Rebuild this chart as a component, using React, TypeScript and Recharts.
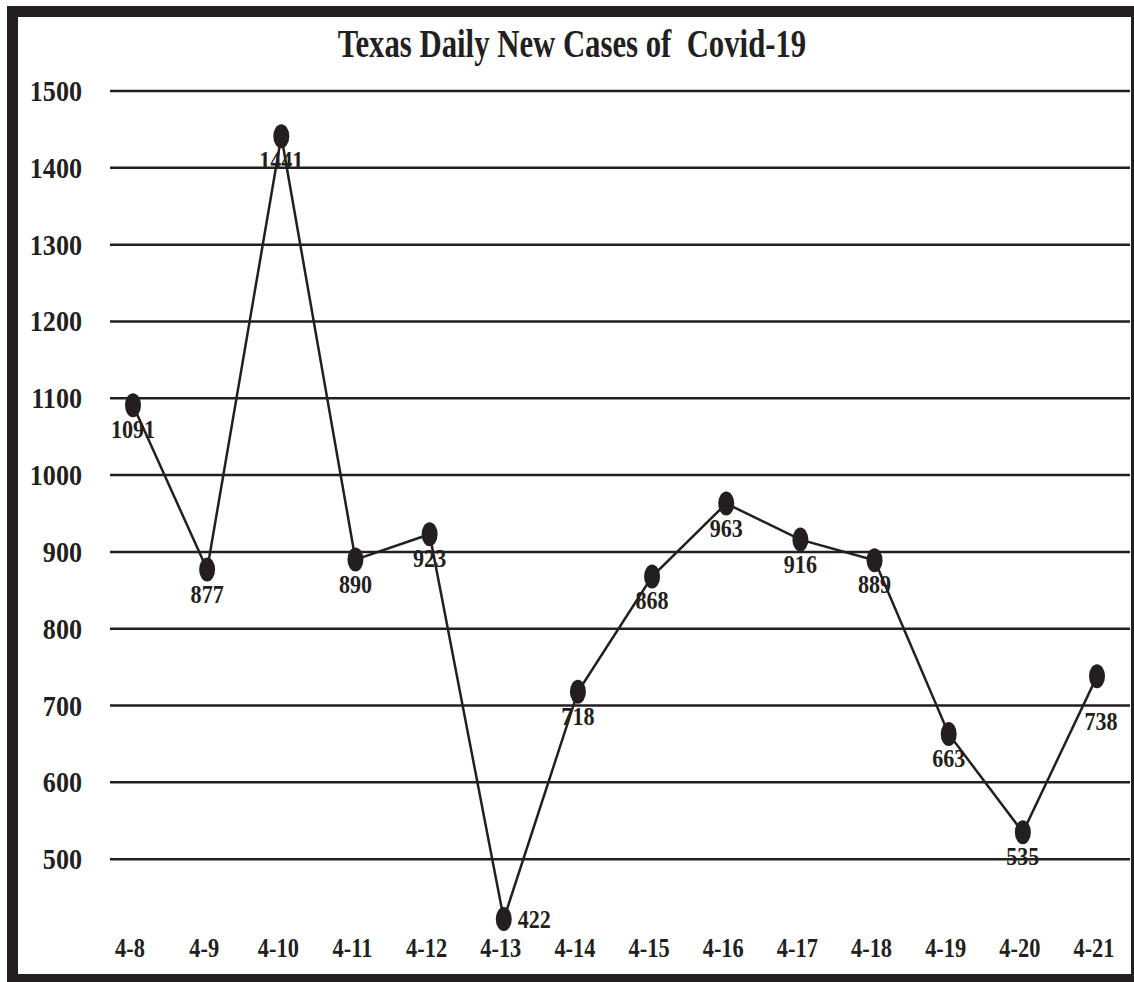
import { CartesianGrid, LabelList, Line, LineChart, XAxis, YAxis } from 'recharts';

const days = ['4-8', '4-9', '4-10', '4-11', '4-12', '4-13', '4-14', '4-15', '4-16', '4-17', '4-18', '4-19', '4-20', '4-21'];
const newCases = [1091, 877, 1441, 890, 923, 422, 718, 868, 963, 916, 889, 663, 535, 738];
const yTicks = [500, 600, 700, 800, 900, 1000, 1100, 1200, 1300, 1400, 1500];

const data = days.map((day, i) => ({ day, cases: newCases[i] }));

const INK = '#231f20';
const FONT = '"Liberation Serif", "Times New Roman", serif';

const YTick = ({ x, y, payload }: any) => (
  <g transform={`translate(${x},${y + 10})`}>
    <text transform="scale(0.87,1)" textAnchor="end" fontFamily={FONT} fontWeight="bold" fontSize={30} fill={INK}>
      {payload.value}
    </text>
  </g>
);

const XTick = ({ x, y, payload }: any) => (
  <g transform={`translate(${x - 3},${y + 21})`}>
    <text transform="scale(0.8,1)" textAnchor="middle" fontFamily={FONT} fontWeight="bold" fontSize={28} fill={INK}>
      {payload.value}
    </text>
  </g>
);

const Dot = ({ cx, cy }: any) => <ellipse cx={cx} cy={cy} rx={8} ry={12} fill={INK} />;

const ValueLabel = ({ x, y, value, index }: any) => {
  // low point would sit on the x labels, so push it to the side
  let dx = 0;
  let dy = 33;
  let anchor = 'middle';
  if (value === 422) {
    dx = 14;
    dy = 9;
    anchor = 'start';
  }
  if (index === newCases.length - 1) {
    dx = 4;
    dy = 54;
  }
  return (
    <g transform={`translate(${x + dx},${y + dy})`}>
      <text transform="scale(0.85,1)" textAnchor={anchor} fontFamily={FONT} fontWeight="bold" fontSize={26} fill={INK}>
        {value}
      </text>
    </g>
  );
};

export default function App() {
  return (
    <div style={{ position: 'fixed', left: 0, top: 0, width: 1134, height: 982, overflow: 'hidden', background: '#fff' }}>
      <div
        style={{
          position: 'absolute',
          left: 7,
          top: 6,
          width: 1135,
          height: 979,
          boxSizing: 'border-box',
          border: `11px solid ${INK}`,
        }}
      />
      <svg width={1134} height={90} style={{ position: 'absolute', left: 0, top: 0 }}>
        <g transform="translate(572,57)">
          <text transform="scale(0.75,1)" textAnchor="middle" fontFamily={FONT} fontWeight="bold" fontSize={41} fill={INK} xmlSpace="preserve">
            Texas Daily New Cases of  Covid-19
          </text>
        </g>
      </svg>
      <div style={{ position: 'absolute', left: 0, top: 0 }}>
        <LineChart width={1134} height={982} data={data} margin={{ top: 91, right: 4, bottom: 0, left: 0 }}>
          <CartesianGrid vertical={false} horizontalValues={yTicks} stroke={INK} strokeWidth={2.5} />
          <XAxis
            dataKey="day"
            height={46}
            padding={{ left: 23, right: 33 }}
            axisLine={false}
            tickLine={false}
            tickSize={0}
            tickMargin={0}
            interval={0}
            tick={<XTick />}
          />
          <YAxis
            width={110}
            domain={[400, 1500]}
            ticks={yTicks}
            interval={0}
            axisLine={false}
            tickLine={false}
            tickSize={0}
            tickMargin={28}
            tick={<YTick />}
          />
          <Line
            dataKey="cases"
            stroke={INK}
            strokeWidth={2.5}
            dot={<Dot />}
            activeDot={false}
            isAnimationActive={false}
          >
            <LabelList dataKey="cases" content={<ValueLabel />} />
          </Line>
        </LineChart>
      </div>
    </div>
  );
}
